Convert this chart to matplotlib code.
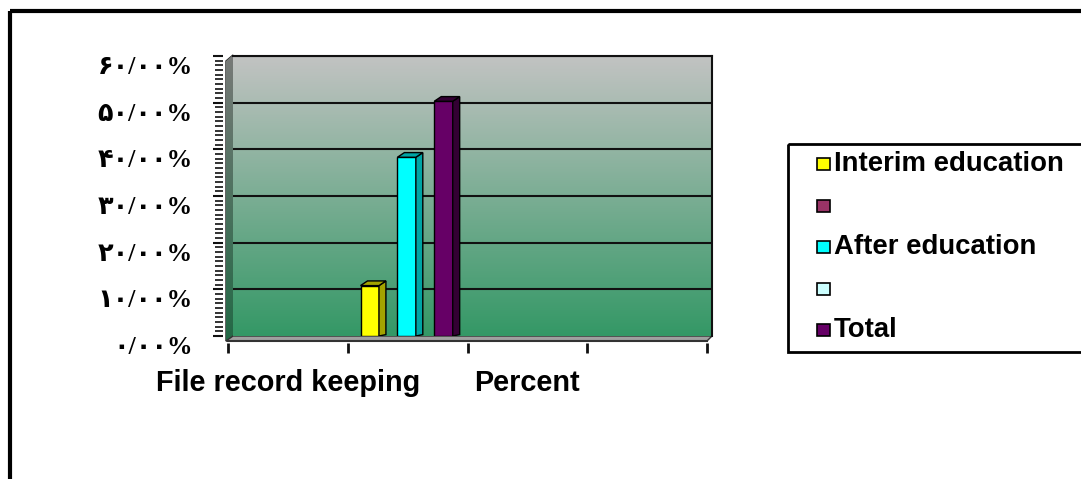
import matplotlib
matplotlib.use('Agg')
import matplotlib.pyplot as plt
import numpy as np
from matplotlib.patches import Polygon, Rectangle
from matplotlib.transforms import ScaledTranslation

# chart data
categories = ['File record keeping', '', 'Percent', '']
series_names = ['Interim education', '', 'After education', '', 'Total']
series_colors = ['#FFFF00', '#993366', '#00FFFF', '#CCFFFF', '#660066']
side_colors = ['#A3A300', '#66223F', '#00A5A5', '#88AAAA', '#330033']
# values per series for the category holding the bars (index 1)
bar_category = 1
series_values = [11.8, None, 39.3, None, 51.3]
y_ticks = [0, 10, 20, 30, 40, 50, 60]

W, H = 1081, 479
fig = plt.figure(figsize=(W / 100, H / 100), dpi=100)


def fx(x):
    return x / W


def fy(y):
    return 1 - y / H


# decoration layer in pixel coordinates
deco = fig.add_axes([0, 0, 1, 1], zorder=0)
deco.set_xlim(0, W)
deco.set_ylim(H, 0)
deco.axis('off')

# outer frame
deco.add_patch(Rectangle((9.5, 11), W + 20, H + 20, fill=False, ec='black', lw=3, clip_on=False))

# main axes = back wall
ax = fig.add_axes([fx(233), fy(336), fx(712) - fx(233), (336 - 56) / H], zorder=1)
ax.patch.set_alpha(0)
ax.set_xlim(-0.5, len(categories) - 0.5)
ax.set_ylim(0, 60)

top = np.array([194, 195, 194]) / 255
bot = np.array([52, 152, 102]) / 255
t = np.linspace(0, 1, 256)[:, None]
grad = (top[None, :] * (1 - t) + bot[None, :] * t)[:, None, :]
ax.imshow(grad, extent=[0, 1, 0, 1], transform=ax.transAxes, aspect='auto', zorder=0)

# left wall and floor
wall_grad_top = np.array([120, 122, 120]) / 255
wall_grad_bot = np.array([35, 105, 70]) / 255
wgrad = (wall_grad_top[None, :] * (1 - t) + wall_grad_bot[None, :] * t)[:, None, :]
wall = Polygon([(226, 61), (233, 55), (233, 336), (226, 341)], closed=True, fc='none', ec='#222222', lw=1)
deco.add_patch(wall)
im = deco.imshow(wgrad, extent=[226, 233, 341, 55], aspect='auto', zorder=1)
im.set_clip_path(wall)
floor = Polygon([(226, 341), (233, 336), (712, 336), (707, 341)], closed=True, fc='#A0A0A0', ec='#333333', lw=1, zorder=2)
deco.add_patch(floor)

# grid lines on back wall
for v in y_ticks[1:]:
    ax.axhline(v, color='#111111', lw=1.5, zorder=1)

for s in ['top', 'right']:
    ax.spines[s].set_color('#111111')
    ax.spines[s].set_linewidth(1.5)
ax.spines['left'].set_position(('outward', 7))
ax.spines['left'].set_visible(False)
ax.spines['bottom'].set_position(('outward', 5))
ax.spines['bottom'].set_visible(False)

# bars with a simple 3D look
slot = 0.154
dx, dy = 0.058, 1.0
shift = -0.05
n = len(series_names)
for i, val in enumerate(series_values):
    if val is None:
        continue
    xc = bar_category + shift + (i - (n - 1) / 2) * slot
    x0, x1 = xc - slot / 2, xc + slot / 2
    ax.bar(xc, val - dy, width=slot, color=series_colors[i], edgecolor='black', lw=1, zorder=3)
    side = Polygon([(x1, 0), (x1, val - dy), (x1 + dx, val), (x1 + dx, dy * 0.3)],
                   closed=True, fc=side_colors[i], ec='black', lw=1, zorder=3)
    topf = Polygon([(x0, val - dy), (x1, val - dy), (x1 + dx, val), (x0 + dx, val)],
                   closed=True, fc=side_colors[i], ec='black', lw=1, zorder=3)
    ax.add_patch(side)
    ax.add_patch(topf)

# y axis
persian = str.maketrans('0123456789', '۰۱۲۳۴۵۶۷۸۹')
ylabels = [('%d/00%%' % v).translate(persian) for v in y_ticks]
ax.yaxis.set_ticks_position('left')
ax.set_yticks(y_ticks)
ax.set_yticks(np.arange(0, 61, 1), minor=True)
ax.set_yticklabels(ylabels, fontsize=18.4, fontweight='bold', va='top',
                   family=['Liberation Serif', 'DejaVu Sans'])
ax.tick_params(axis='y', which='major', length=7, width=1.5, pad=15, color='#111111')
ax.tick_params(axis='y', which='minor', length=6, width=1.2, color='#111111')

# x axis (front edge of the floor, shifted left like the 3D front plane)
ax.set_xticks(np.arange(len(categories) + 1) - 0.5)
ax.set_xticklabels([])
ax.set_xticks(np.arange(len(categories)), minor=True)
ax.set_xticklabels(categories, minor=True, fontsize=20.8, fontweight='bold', family='Liberation Sans')
ax.tick_params(axis='x', which='major', length=7, width=2, color='#111111', direction='out')
ax.tick_params(axis='x', which='minor', length=0, pad=19)
front = ScaledTranslation(-5 / 100, 0, fig.dpi_scale_trans)
for tk in ax.xaxis.get_major_ticks() + ax.xaxis.get_minor_ticks():
    tk.tick1line.set_transform(tk.tick1line.get_transform() + front)
    tk.label1.set_transform(tk.label1.get_transform() + front)
ax.plot([0, 1], [0, 0], transform=ax.transAxes + ScaledTranslation(-5 / 100, -5 / 100, fig.dpi_scale_trans),
        color='#333333', lw=1.5, clip_on=False, zorder=4)

# legend
deco.add_patch(Rectangle((788, 144), 400, 208, fill=False, ec='black', lw=2, clip_on=False, zorder=3))
row_y = [164, 205.5, 247, 288.5, 330]
for name, color, yy in zip(series_names, series_colors, row_y):
    deco.add_patch(Rectangle((817, yy - 6), 13, 12, fc=color, ec='black', lw=1.2, zorder=3))
    deco.text(834, yy, name, fontsize=19.8, fontweight='bold', family='Liberation Sans',
              va='center', ha='left', zorder=3)

fig.savefig('out.png', dpi=100)
